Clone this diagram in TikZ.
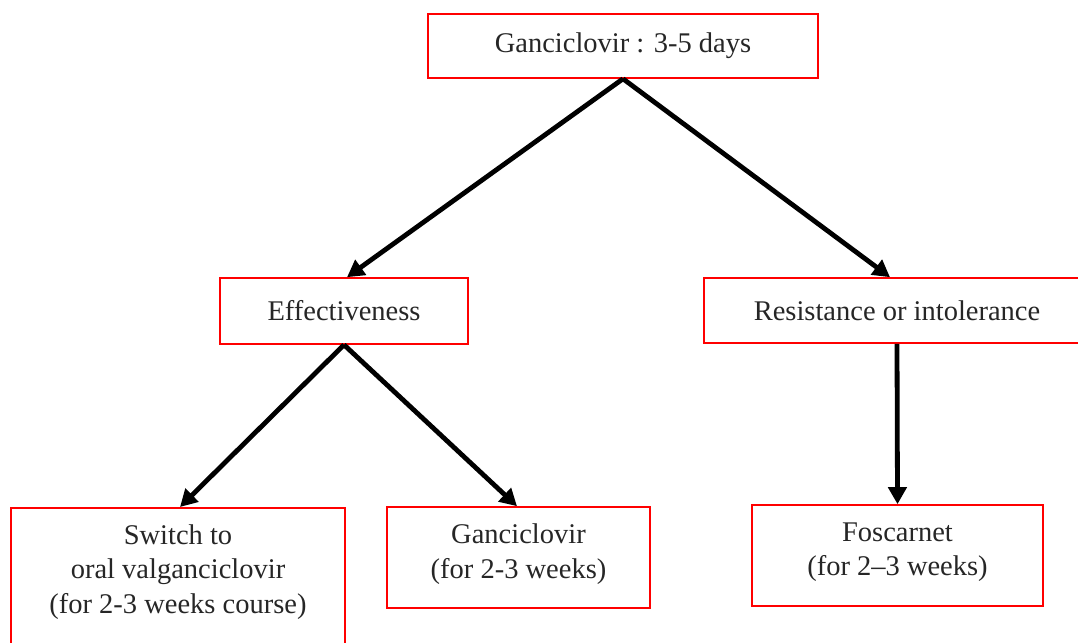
\documentclass[tikz,border=0pt]{standalone}
\usepackage{fontspec}
\setmainfont{Liberation Serif}
\usetikzlibrary{arrows.meta,calc}
\begin{document}
\begin{tikzpicture}[x=1pt,y=-1pt,
  box/.style={draw=red, line width=1.6pt, fill=white, inner sep=0pt, align=center, font=\fontsize{28.5}{34.5}\selectfont, text=black!85},
  txt/.style={inner sep=0pt, align=center, font=\fontsize{28.5}{34.5}\selectfont, text=black!85},
  arr/.style={line width=4.8pt, -{Triangle[length=17pt,width=18pt]}}]
\useasboundingbox (0,0) rectangle (1078,642);
\node[box, minimum width=390pt, minimum height=64pt] (top) at (623,46) {Ganciclovir : 3-5 days};
\node[box, minimum width=248pt, minimum height=66pt] (eff) at (344,311) {Effectiveness};
\node[box, minimum width=386pt, minimum height=65pt] (res) at (897,310.5) {Resistance or intolerance};
\node[box, minimum width=334pt, minimum height=170pt, anchor=north] (sw) at (178,507) {};
\node[txt] (swtext) at (178,572) {Switch to\\oral valganciclovir\\(for 2-3 weeks course)};
\node[box, minimum width=263pt, minimum height=101pt] (gan) at (518.5,557.5) {};
\node[txt] (gantext) at (518.5,554) {Ganciclovir\\(for 2-3 weeks)};
\node[box, minimum width=291pt, minimum height=101pt] (fos) at (897.5,555.5) {};
\node[txt] (fostext) at (897.5,552) {Foscarnet\\(for 2–3 weeks)};
\draw[arr] (top.south) -- ([xshift=3pt]eff.north);
\draw[arr] (top.south) -- ([xshift=-7pt]res.north);
\draw[arr] (eff.south) -- ([xshift=2pt]sw.north);
\draw[arr] (eff.south) -- ([xshift=-1.5pt]gan.north);
\draw[arr] (res.south) -- (fos.north);
\end{tikzpicture}
\end{document}
